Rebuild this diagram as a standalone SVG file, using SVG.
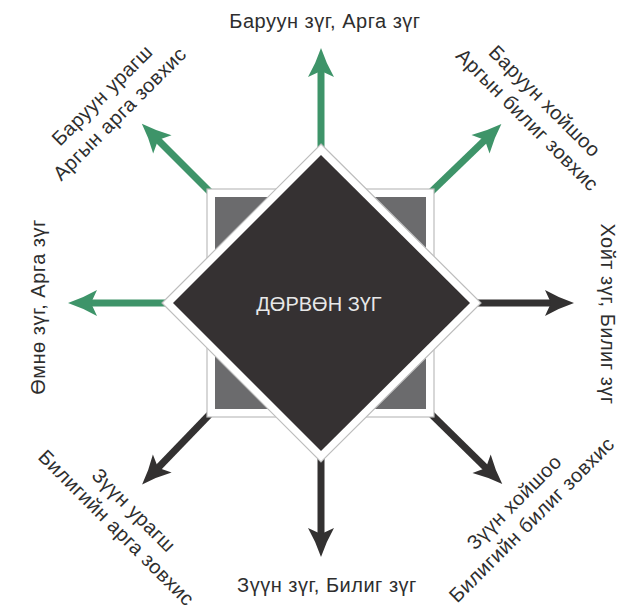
<svg xmlns="http://www.w3.org/2000/svg" width="637" height="610" viewBox="0 0 637 610">
<style>
  .lbl { font-family: "Liberation Sans", Arial, sans-serif; font-size: 20px; letter-spacing: 0.5px; fill: #2e2e2e; text-anchor: middle; }
  .ctr { font-family: "Liberation Sans", Arial, sans-serif; font-size: 20px; fill: #e8e8e8; text-anchor: middle; }
  .g { stroke: #3e9469; stroke-width: 7; fill: none; }
  .d { stroke: #333131; stroke-width: 7; fill: none; }
</style>
<defs>
  <marker id="ag" markerUnits="userSpaceOnUse" orient="auto" refX="0" refY="0" markerWidth="40" markerHeight="40" overflow="visible">
    <path d="M20,0 Q5,-5 -9,-13 L-3,0 L-9,13 Q5,5 20,0 Z" fill="#3e9469"/>
  </marker>
  <marker id="ad" markerUnits="userSpaceOnUse" orient="auto" refX="0" refY="0" markerWidth="40" markerHeight="40" overflow="visible">
    <path d="M20,0 Q5,-5 -9,-13 L-3,0 L-9,13 Q5,5 20,0 Z" fill="#333131"/>
  </marker>
</defs>
<g id="connectors">
  <line class="g" x1="321" y1="150" x2="321" y2="68" marker-end="url(#ag)"/>
  <line class="g" x1="168" y1="303" x2="88" y2="303" marker-end="url(#ag)"/>
  <line class="d" x1="475" y1="303" x2="554" y2="303" marker-end="url(#ad)"/>
  <line class="d" x1="321" y1="457" x2="321" y2="537" marker-end="url(#ad)"/>
  <line class="g" x1="210" y1="192" x2="156" y2="138" marker-end="url(#ag)"/>
  <line class="g" x1="431" y1="192" x2="487" y2="138" marker-end="url(#ag)"/>
  <line class="d" x1="210" y1="414" x2="156" y2="470" marker-end="url(#ad)"/>
  <line class="d" x1="431" y1="414" x2="488" y2="470" marker-end="url(#ad)"/>
</g>
<g id="center">
  <rect x="207" y="189" width="227" height="228" fill="#ffffff" stroke="#bdbdbd" stroke-width="1.2"/>
  <rect x="215" y="197" width="211" height="212" fill="#6b6b6d"/>
  <polygon points="321,144 481,303 321,462 162,303" fill="#ffffff" stroke="#bdbdbd" stroke-width="1.2"/>
  <polygon points="321,155 470,303 321,451 173,303" fill="#353132"/>
  <text class="ctr" x="319" y="311">ДӨРВӨН ЗҮГ</text>
</g>
<g id="labels">
  <text class="lbl" x="325" y="28">Баруун зүг, Арга зүг</text>
  <text class="lbl" x="327" y="592">Зүүн зүг, Билиг зүг</text>
  <text class="lbl" transform="translate(45,307) rotate(-90)">Өмнө зүг, Арга зүг</text>
  <text class="lbl" transform="translate(601,314) rotate(90)">Хойт зүг, Билиг зүг</text>
  <text class="lbl" transform="translate(107,100) rotate(-45)">Баруун урагш</text>
  <text class="lbl" transform="translate(124.5,118.5) rotate(-45)">Аргын арга зовхис</text>
  <text class="lbl" transform="translate(540,106) rotate(45)">Баруун хойшоо</text>
  <text class="lbl" transform="translate(522.5,124.5) rotate(45)">Аргын билиг зовхис</text>
  <text class="lbl" transform="translate(129,515) rotate(45)">Зүүн урагш</text>
  <text class="lbl" transform="translate(111.5,532.5) rotate(45)">Билигийн арга зовхис</text>
  <text class="lbl" transform="translate(519,507) rotate(-45)">Зүүн хойшоо</text>
  <text class="lbl" transform="translate(536.5,524.5) rotate(-45)">Билигийн билиг зовхис</text>
</g>
</svg>
